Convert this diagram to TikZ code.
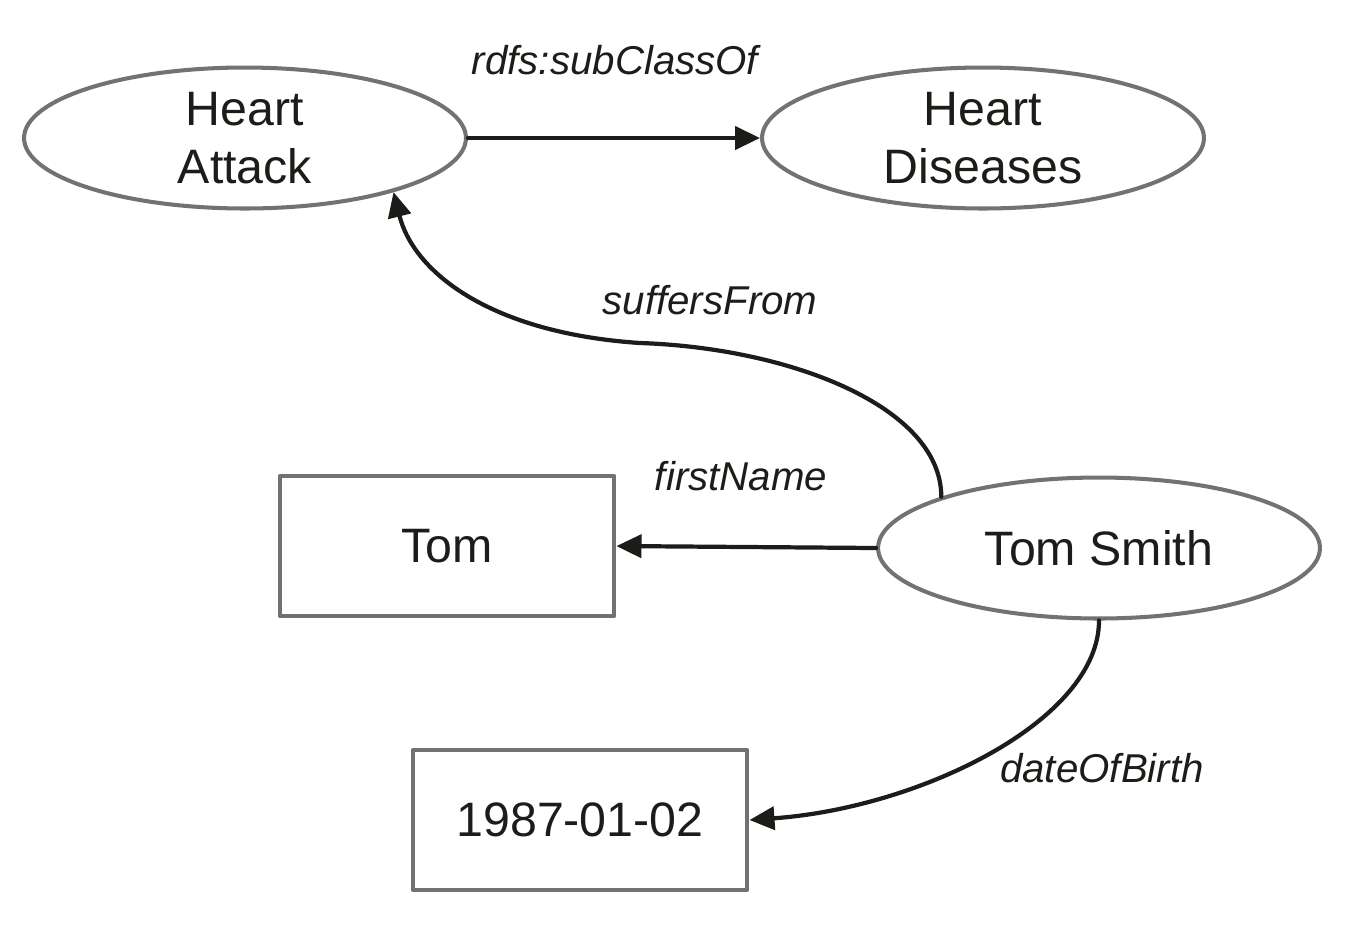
\documentclass[tikz,border=0pt]{standalone}
\usepackage{fontspec}
\setmainfont{Liberation Sans}
\usetikzlibrary{shapes.geometric,arrows.meta}

\definecolor{edgegray}{HTML}{727272}
\definecolor{inkdark}{HTML}{1C1C18}

\tikzset{
  res/.style={ellipse, draw=edgegray, line width=2.3pt, inner sep=0pt,
    minimum width=8.84cm, minimum height=2.82cm, text=inkdark, align=center,
    font=\fontsize{27.5}{33}\selectfont},
  lit/.style={rectangle, draw=edgegray, line width=2.3pt, inner sep=0pt,
    minimum width=6.7cm, minimum height=2.8cm, text=inkdark,
    font=\fontsize{27.5}{33}\selectfont},
  prop/.style={text=inkdark, font=\fontsize{22.9}{26}\selectfont\itshape},
  conn/.style={draw=inkdark, line width=2.4pt,
    -{Triangle[length=0.5cm, width=0.46cm]}}
}

\begin{document}
\begin{tikzpicture}[x=0.02cm, y=-0.02cm, line cap=round, line join=round]

% -----------------------
% Frame (pixel grid of the reference)
% -----------------------
\useasboundingbox (0,0) rectangle (1352,938);

% -----------------------
% Classes and individual
% -----------------------
\node[res] (ha) at (245,138) {Heart\\Attack};
\node[res] (hd) at (983,138) {Heart\\Diseases};
\node[res] (ts) at (1099,548) {Tom Smith};

% -----------------------
% Literal values
% -----------------------
\node[lit] (tom) at (447,546) {Tom};
\node[lit] (dob) at (580,820) {1987-01-02};

% -----------------------
% Properties
% -----------------------
\draw[conn] (ha.east) -- (hd.west);
\draw[conn] (ts.west) -- (tom.east);
\draw[conn] (ts.162) .. controls +(0,-90) and +(150,5) .. (640,343)
  .. controls +(-150,-10) and +(20,80) .. (ha.-20);
\draw[conn] (ts.south) .. controls +(0,100) and +(170,-12) .. (dob.east);

% -----------------------
% Property labels
% -----------------------
\node[prop] (subcls) at (615,60) {rdfs:subClassOf};
\node[prop] (suffers) at (710,300) {suffersFrom};
\node[prop] (fname) at (741,476) {firstName};
\node[prop] (birth) at (1102,768) {dateOfBirth};

\end{tikzpicture}
\end{document}
